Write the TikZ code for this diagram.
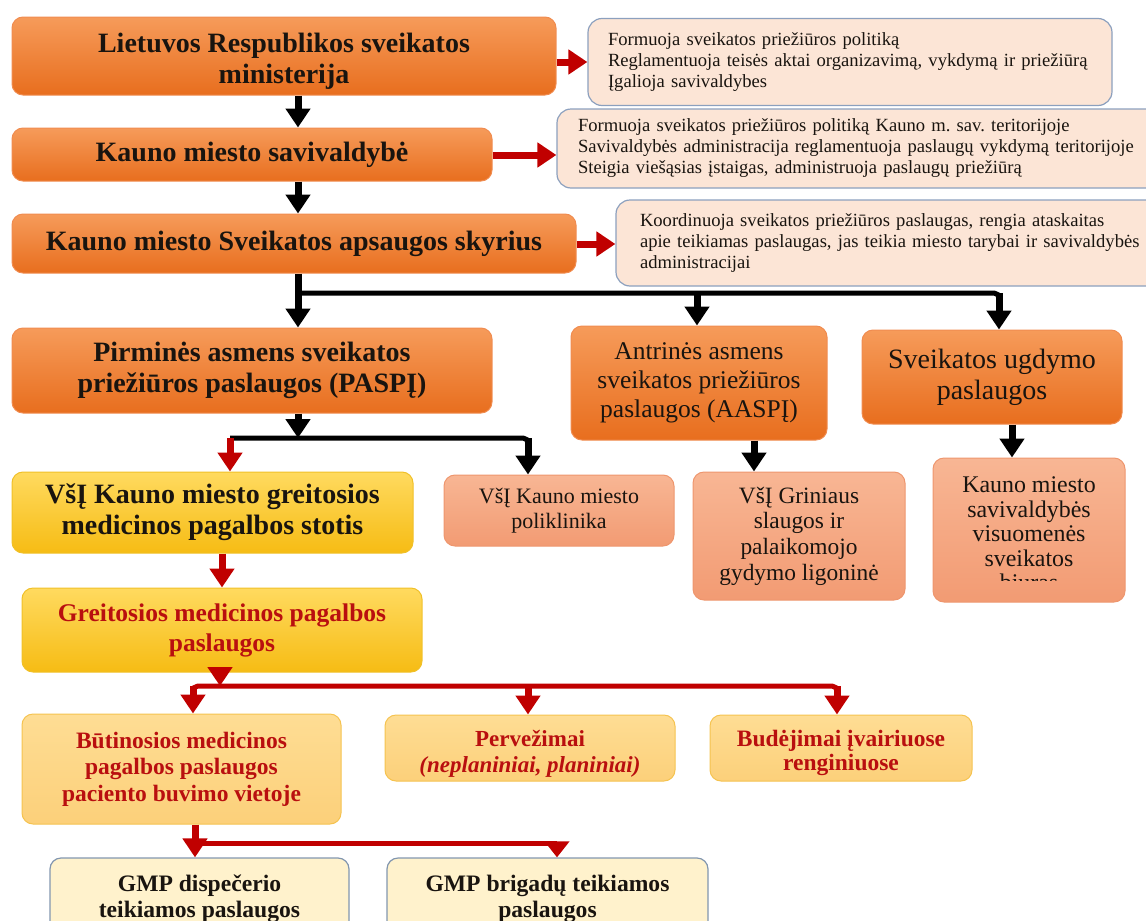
\documentclass[tikz,border=0pt]{standalone}
\usepackage{fontspec}
\setmainfont{Liberation Serif}
\usetikzlibrary{arrows.meta}
\frenchspacing

\definecolor{orT}{RGB}{246,155,90}
\definecolor{orB}{RGB}{232,110,30}
\definecolor{orE}{RGB}{240,140,80}
\definecolor{goT}{RGB}{255,218,95}
\definecolor{goB}{RGB}{246,188,20}
\definecolor{goE}{RGB}{240,192,40}
\definecolor{ltT}{RGB}{254,221,148}
\definecolor{ltB}{RGB}{252,208,122}
\definecolor{ltE}{RGB}{245,195,80}
\definecolor{saT}{RGB}{248,182,148}
\definecolor{saB}{RGB}{242,155,115}
\definecolor{saE}{RGB}{238,150,110}
\definecolor{inF}{RGB}{252,229,214}
\definecolor{inE}{RGB}{140,160,190}
\definecolor{crF}{RGB}{255,242,204}
\definecolor{crE}{RGB}{130,150,175}
\definecolor{arR}{RGB}{192,0,0}
\definecolor{txR}{RGB}{185,15,15}
\definecolor{txt}{RGB}{25,20,15}

\begin{document}
\begin{tikzpicture}[x=1pt,y=-1pt,
  base/.style={rounded corners=11pt, inner sep=0pt, align=center, line width=1pt},
  orangebox/.style={base, draw=orE, top color=orT, bottom color=orB, text=txt},
  goldbox/.style={base, draw=goE, top color=goT, bottom color=goB},
  lightbox/.style={base, draw=ltE, top color=ltT, bottom color=ltB, text=txR},
  salmonbox/.style={base, draw=saE, top color=saT, bottom color=saB, text=txt},
  infobox/.style={base, rounded corners=14pt, draw=inE, fill=inF, line width=1.2pt, align=left, text=txt, font=\fontsize{18.6}{21}\selectfont},
  creambox/.style={base, draw=crE, fill=crF, line width=1.2pt, text=txt},
  plain/.style={align=center, inner sep=0pt},
  bigb/.style={font=\fontsize{28}{31}\selectfont\bfseries},
  blk/.style={line width=7pt, draw=black, -{Triangle[width=24pt,length=19pt]}},
  rdd/.style={line width=7pt, draw=arR, -{Triangle[width=24pt,length=19pt]}},
  blkline/.style={line width=5pt, draw=black, rounded corners=5pt},
  rdline/.style={line width=5pt, draw=arR, rounded corners=5pt},
]
\useasboundingbox (0,0) rectangle (1146,921);
\clip (0,0) rectangle (1146,921);

% ---------- top level ----------
\node[orangebox, minimum width=544pt, minimum height=78pt] (b1) at (284,56) {};
\node[plain, bigb, text=txt] (b1t) at (284,61) {Lietuvos Respublikos sveikatos\\ministerija};
\node[infobox, minimum width=524pt, minimum height=87pt, text width=484pt] (i1) at (850,62)
  {\mbox{Formuoja sveikatos priežiūros politiką}\\\mbox{Reglamentuoja teisės aktai organizavimą, vykdymą ir priežiūrą}\\\mbox{Įgalioja savivaldybes}};
\node[orangebox, bigb, minimum width=480pt, minimum height=53pt] (b2) at (252,154.5) {Kauno miesto savivaldybė};
\node[infobox, minimum width=603pt, minimum height=79pt, text width=561pt] (i2) at (858.5,148.5)
  {\mbox{Formuoja sveikatos priežiūros politiką Kauno m. sav. teritorijoje}\\\mbox{Savivaldybės administracija reglamentuoja paslaugų vykdymą teritorijoje}\\\mbox{Steigia viešąsias įstaigas, administruoja paslaugų priežiūrą}};
\node[orangebox, bigb, minimum width=564pt, minimum height=59pt] (b3) at (294,243.5) {Kauno miesto Sveikatos apsaugos skyrius};
\node[infobox, minimum width=544pt, minimum height=86pt, text width=496pt] (i3) at (888,243)
  {\mbox{Koordinuoja sveikatos priežiūros paslaugas, rengia ataskaitas}\\\mbox{apie teikiamas paslaugas, jas teikia miesto tarybai ir savivaldybės}\\\mbox{administracijai}};

% ---------- second level ----------
\node[orangebox, bigb, minimum width=480pt, minimum height=85pt] (pas) at (252,370.5) {Pirminės asmens sveikatos\\priežiūros paslaugos (PASPĮ)};
\node[orangebox, font=\fontsize{25.5}{29}\selectfont, minimum width=256pt, minimum height=114pt] (ant) at (699,383) {Antrinės asmens\\sveikatos priežiūros\\paslaugos (AASPĮ)};
\node[orangebox, font=\fontsize{28}{31}\selectfont, minimum width=260pt, minimum height=94pt] (ug) at (992,377) {Sveikatos ugdymo\\paslaugos};

% ---------- third level ----------
\node[goldbox, bigb, text=txt, minimum width=401pt, minimum height=81pt] (gmp) at (212.5,512.5) {VšĮ Kauno miesto greitosios\\medicinos pagalbos stotis};
\node[salmonbox, font=\fontsize{22}{25}\selectfont, minimum width=230pt, minimum height=71pt] (poli) at (559,510.5) {VšĮ Kauno miesto\\poliklinika};
\node[salmonbox, font=\fontsize{23.4}{25.7}\selectfont, minimum width=212pt, minimum height=128pt] (gri) at (799,536) {VšĮ Griniaus\\slaugos ir\\palaikomojo\\gydymo ligoninė};
\node[salmonbox, minimum width=192pt, minimum height=144pt] (biu) at (1029,530) {};
\begin{scope}
  \clip (933,440) rectangle (1125,580);
  \node[plain, text=txt, font=\fontsize{23.9}{24.5}\selectfont] (biut) at (1029,534) {Kauno miesto\\savivaldybės\\visuomenės\\sveikatos\\biuras};
\end{scope}

% ---------- emergency branch ----------
\node[goldbox, text=txR, font=\fontsize{25.5}{30}\selectfont\bfseries, minimum width=400pt, minimum height=84pt] (gre) at (222,630) {Greitosios medicinos pagalbos\\paslaugos};
\node[lightbox, font=\fontsize{23.5}{26.5}\selectfont\bfseries, minimum width=319pt, minimum height=110pt] (but) at (181.5,769) {Būtinosios medicinos\\pagalbos paslaugos\\paciento buvimo vietoje};
\node[lightbox, minimum width=290pt, minimum height=66pt] (per) at (530,748) {};
\node[plain, text=txR, font=\fontsize{23}{26}\selectfont\bfseries] (pert) at (530,754) {Pervežimai\\\textit{(neplaniniai, planiniai)}};
\node[lightbox, minimum width=262pt, minimum height=66pt] (bud) at (841,748) {};
\node[plain, text=txR, font=\fontsize{23.5}{24}\selectfont\bfseries] (budt) at (841,753) {Budėjimai įvairiuose\\renginiuose};
\node[creambox, font=\fontsize{23.6}{26}\selectfont\bfseries, minimum width=299pt, minimum height=82pt] (d1) at (199.5,899) {GMP dispečerio\\teikiamos paslaugos};
\node[creambox, font=\fontsize{23.6}{26}\selectfont\bfseries, minimum width=321pt, minimum height=82pt] (d2) at (547.5,899) {GMP brigadų teikiamos\\paslaugos};

% ---------- helper coordinates ----------
\coordinate (xM) at (298,0);
\coordinate (xA) at (697,0);
\coordinate (xB) at (999,0);
\coordinate (j1) at (298,293);
\coordinate (j1e) at (999,305);
\coordinate (j2) at (230,438);
\coordinate (j2e) at (528,450);
\coordinate (xP) at (528,0);
\coordinate (xG) at (754,0);
\coordinate (xU) at (1012,0);
\coordinate (xR) at (222,0);
\coordinate (j3) at (193,686);
\coordinate (j3s) at (193,698);
\coordinate (j3e) at (837,698);
\coordinate (xE) at (220,0);
\coordinate (xV) at (528,0);
\coordinate (xW) at (837,0);
\coordinate (j4) at (195,843);
\coordinate (k4) at (557,843);
\coordinate (y1) at (0,62);
\coordinate (y2) at (0,155);
\coordinate (y3) at (0,244);

% ---------- connectors ----------
\draw[rdd] (b1.east |- y1) -- (i1.west |- y1);
\draw[rdd] (b2.east |- y2) -- (i2.west |- y2);
\draw[rdd] (b3.east |- y3) -- (i3.west |- y3);

\draw[blk] (b1.south -| xM) -- (b2.north -| xM);
\draw[blk] (b2.south -| xM) -- (b3.north -| xM);
\draw[blk] (b3.south -| xM) -- (pas.north -| xM);
\draw[blkline] (j1) -| (j1e);
\draw[blk] (j1 -| xA) -- (ant.north -| xA);
\draw[blk] (j1 -| xB) -- (ug.north -| xB);

\draw[blk] (pas.south -| xM) -- (j2 -| xM);
\draw[blkline] (j2) -| (j2e);
\draw[blk] (j2 -| xP) -- (poli.north -| xP);
\draw[rdd] (j2) -- (gmp.north -| j2);
\draw[blk] (ant.south -| xG) -- (gri.north -| xG);
\draw[blk] (ug.south -| xU) -- (biu.north -| xU);

\draw[rdd] (gmp.south -| xR) -- (gre.north -| xR);
\draw[rdline] (j3s) |- (j3e |- j3) -- (j3e);
\draw[rdd] (gre.south -| xE) -- (j3 -| xE);
\draw[rdd] (j3) -- (but.north -| j3);
\draw[rdd] (j3 -| xV) -- (per.north -| xV);
\draw[rdd] (j3 -| xW) -- (bud.north -| xW);

\draw[rdd] (but.south -| j4) -- (d1.north -| j4);
\draw[rdline] (j4) -- (k4);
\draw[rdd, -{Triangle[width=24pt,length=16pt]}] (k4) -- (d2.north -| k4);
\end{tikzpicture}
\end{document}
